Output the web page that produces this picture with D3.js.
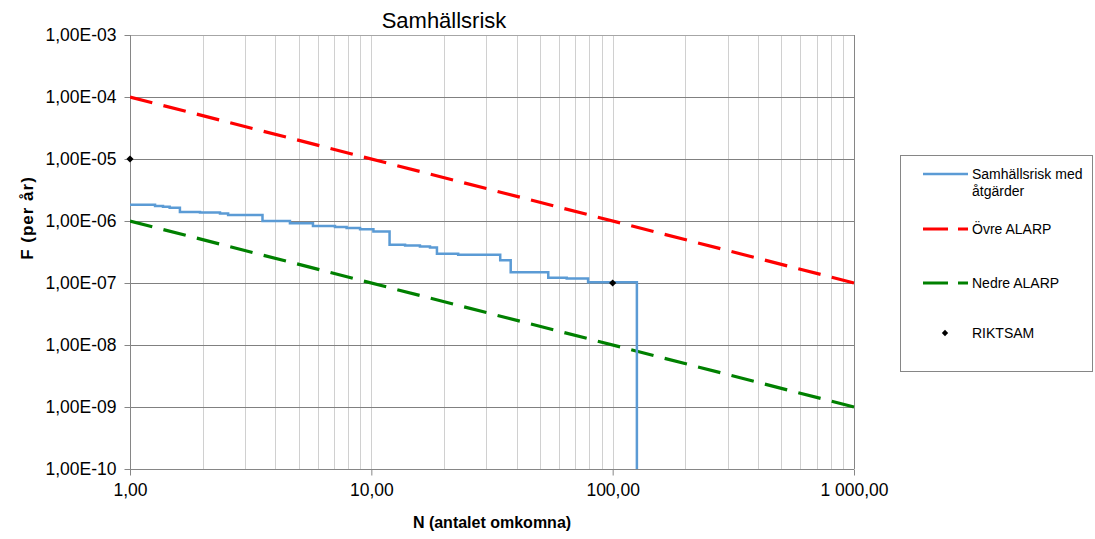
<!DOCTYPE html>
<html>
<head>
<meta charset="utf-8">
<script src="https://cdn.jsdelivr.net/npm/d3@7"></script>
<style>
  html, body { margin: 0; padding: 0; background: #fff; }
  svg { display: block; font-family: "Liberation Sans", Arial, sans-serif; }
</style>
</head>
<body>
<svg id="chart" width="1095" height="539"></svg>
<script>
// ---- data ----
const title = "Samhällsrisk";
const xAxisTitle = "N (antalet omkomna)";
const yAxisTitle = "F (per år)";

const xTickValues = [1, 10, 100, 1000];
const xTickLabels = ["1,00", "10,00", "100,00", "1 000,00"];
const yTickValues = [1e-10, 1e-9, 1e-8, 1e-7, 1e-6, 1e-5, 1e-4, 1e-3];
const yTickLabels = ["1,00E-10", "1,00E-09", "1,00E-08", "1,00E-07", "1,00E-06", "1,00E-05", "1,00E-04", "1,00E-03"];

// Samhällsrisk med åtgärder (step curve, F after each N)
const riskN = [1, 1.27, 1.37, 1.46, 1.61, 1.95, 2.36, 2.55, 3.54, 4.6, 5.73, 7.07, 7.9, 8.98, 10.2, 11.9, 13.8, 15.9, 17.5, 18.7, 22.9, 34.2, 37.8, 54.1, 64.5, 79.1, 126, 126];
const riskF = [1.83e-6, 1.75e-6, 1.70e-6, 1.63e-6, 1.40e-6, 1.37e-6, 1.32e-6, 1.25e-6, 1.0e-6, 9.2e-7, 8.3e-7, 8.0e-7, 7.7e-7, 7.35e-7, 6.8e-7, 4.15e-7, 4.03e-7, 3.88e-7, 3.74e-7, 2.97e-7, 2.86e-7, 2.32e-7, 1.49e-7, 1.22e-7, 1.18e-7, 1.03e-7, 1.03e-7, 1e-10];

// Övre ALARP
const upperN = [1, 1000];
const upperF = [1e-4, 1e-7];
// Nedre ALARP
const lowerN = [1, 1000];
const lowerF = [1e-6, 1e-9];
// RIKTSAM
const riktN = [1, 100];
const riktF = [1e-5, 1e-7];

const legendLabels = [["Samhällsrisk med", "åtgärder"], ["Övre ALARP"], ["Nedre ALARP"], ["RIKTSAM"]];

// ---- chart ----
const svg = d3.select("#chart");
const L = 130, R = 854, T = 35, B = 469;

const x = d3.scaleLog().domain([1, 1000]).range([L, R]);
const y = d3.scaleLog().domain([1e-10, 1e-3]).range([B, T]);

// vertical gridlines (minor + major)
svg.append("g").selectAll("line")
  .data(x.ticks().filter(d => d > 1 && d < 1000))
  .join("line")
  .attr("x1", d => Math.round(x(d)) + 0.5).attr("x2", d => Math.round(x(d)) + 0.5)
  .attr("y1", T).attr("y2", B)
  .attr("stroke", "#d0d0d0").attr("stroke-width", 1);

// horizontal gridlines
svg.append("g").selectAll("line")
  .data(yTickValues.filter(d => d > 1e-10))
  .join("line")
  .attr("x1", L).attr("x2", R)
  .attr("y1", d => Math.round(y(d)) + 0.5).attr("y2", d => Math.round(y(d)) + 0.5)
  .attr("stroke", d => d === 1e-3 ? "#a6a6a6" : "#808080").attr("stroke-width", 1);

// right border
svg.append("line")
  .attr("x1", R + 0.5).attr("x2", R + 0.5).attr("y1", T).attr("y2", B)
  .attr("stroke", "#868686");

// y axis
const yAxis = d3.axisLeft(y)
  .tickValues(yTickValues)
  .tickFormat((d, i) => yTickLabels[i])
  .tickSize(6).tickPadding(8);
const gy = svg.append("g").attr("transform", `translate(${L + 0.5},0)`).call(yAxis);
gy.select(".domain").attr("stroke", "#868686").attr("d", `M0,${T}V${B}`);
gy.selectAll(".tick line").attr("stroke", "#868686");
gy.selectAll(".tick text").attr("font-size", "17.5px").attr("fill", "#000")
  .attr("font-family", "Liberation Sans, Arial, sans-serif");

// x axis
const xAxis = d3.axisBottom(x)
  .tickValues(xTickValues)
  .tickFormat((d, i) => xTickLabels[i])
  .tickSize(6).tickPadding(8);
const gx = svg.append("g").attr("transform", `translate(0,${B + 0.5})`).call(xAxis);
gx.select(".domain").attr("stroke", "#868686").attr("d", `M${L},0H${R}`);
gx.selectAll(".tick line").attr("stroke", "#868686");
gx.selectAll(".tick text").attr("font-size", "17.5px").attr("fill", "#000")
  .attr("font-family", "Liberation Sans, Arial, sans-serif");

// clip
svg.append("clipPath").attr("id", "plotclip")
  .append("rect").attr("x", L).attr("y", T - 2).attr("width", R - L + 2).attr("height", B - T + 4);

const plot = svg.append("g").attr("clip-path", "url(#plotclip)");

const line = d3.line().x(d => x(d[0])).y(d => y(d[1]));
const stepLine = d3.line().x(d => x(d[0])).y(d => y(d[1])).curve(d3.curveStepAfter);

plot.append("path")
  .datum(lowerN.map((n, i) => [n, lowerF[i]]))
  .attr("d", line).attr("fill", "none")
  .attr("stroke", "#008000").attr("stroke-width", 3.2).attr("stroke-dasharray", "23,11.5");

plot.append("path")
  .datum(upperN.map((n, i) => [n, upperF[i]]))
  .attr("d", line).attr("fill", "none")
  .attr("stroke", "#ff0000").attr("stroke-width", 3.2).attr("stroke-dasharray", "23,11.5");

plot.append("path")
  .datum(riskN.map((n, i) => [n, riskF[i]]))
  .attr("d", stepLine).attr("fill", "none")
  .attr("stroke", "#5b9bd5").attr("stroke-width", 2.5);

const diamond = d3.symbol().type(d3.symbolSquare).size(26);
svg.append("g").selectAll("path")
  .data(riktN.map((n, i) => [n, riktF[i]]))
  .join("path")
  .attr("d", diamond)
  .attr("transform", d => `translate(${x(d[0])},${y(d[1])}) rotate(45)`)
  .attr("fill", "#000");

// titles
svg.append("text").attr("x", 444).attr("y", 28).attr("text-anchor", "middle")
  .attr("font-size", "22px").attr("fill", "#000").text(title);

svg.append("text").attr("x", 492).attr("y", 528).attr("text-anchor", "middle")
  .attr("font-size", "16px").attr("font-weight", "bold").attr("fill", "#000")
  .text(xAxisTitle);

svg.append("text").attr("transform", "translate(33,218) rotate(-90)")
  .attr("text-anchor", "middle").attr("font-size", "17px").attr("font-weight", "bold")
  .attr("letter-spacing", "1px").attr("fill", "#000").text(yAxisTitle);

// legend
const lg = svg.append("g");
lg.append("rect").attr("x", 900.5).attr("y", 155.5).attr("width", 192).attr("height", 216)
  .attr("fill", "#fff").attr("stroke", "#868686");

const legendY = [174, 229, 283, 333];
const legendStyles = [
  { type: "line", color: "#5b9bd5", dash: null, w: 2.5 },
  { type: "line", color: "#ff0000", dash: "25,10", w: 3.2 },
  { type: "line", color: "#008000", dash: "25,10", w: 3.2 },
  { type: "dot", color: "#000" }
];
legendLabels.forEach((lab, i) => {
  const st = legendStyles[i];
  const cy = legendY[i];
  if (st.type === "line") {
    lg.append("line").attr("x1", 923).attr("x2", 968).attr("y1", cy).attr("y2", cy)
      .attr("stroke", st.color).attr("stroke-width", st.w)
      .attr("stroke-dasharray", st.dash);
  } else {
    lg.append("path").attr("d", d3.symbol().type(d3.symbolSquare).size(20))
      .attr("transform", `translate(945,${cy}) rotate(45)`).attr("fill", st.color);
  }
  const t = lg.append("text").attr("x", 972).attr("y", cy + 5)
    .attr("font-size", "14px").attr("fill", "#000");
  lab.forEach((s, j) => {
    t.append("tspan").attr("x", 972).attr("dy", j === 0 ? 0 : 17).text(s);
  });
});
</script>
</body>
</html>
